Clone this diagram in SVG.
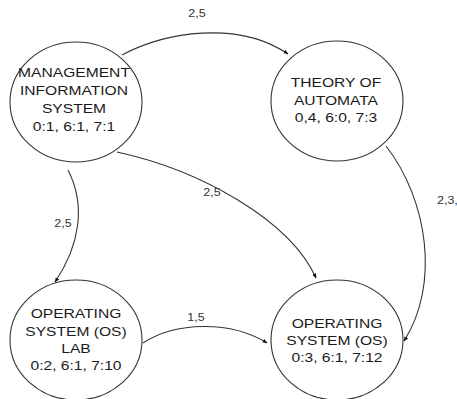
<svg xmlns="http://www.w3.org/2000/svg" width="457" height="399" viewBox="0 0 457 399">
<style>
.node ellipse{fill:#fff;stroke:#333;stroke-width:1.1}
.node text{font-family:"Liberation Sans",Arial,sans-serif;font-size:12.5px;fill:#1a1a1a;text-anchor:middle}
.edge{fill:none;stroke:#333;stroke-width:1.1;marker-end:url(#arr)}
.lbl{font-family:"Liberation Sans",Arial,sans-serif;font-size:10px;fill:#333;text-anchor:middle}
</style>
<defs>
<marker id="arr" viewBox="0 0 10 10" refX="9" refY="5" markerWidth="5" markerHeight="5" orient="auto" markerUnits="userSpaceOnUse">
<path d="M0,1 L10,5 L0,9 z" fill="#111"/>
</marker>
</defs>
<rect width="457" height="399" fill="#fff"/>
<g id="connectors">
<path class="edge" d="M122,55 C165,32 238,20 288,54"/>
<path class="edge" d="M117,152 C200,170 290,220 316,278"/>
<path class="edge" d="M68,170 C86,205 80,245 55,282"/>
<path class="edge" d="M143,343 C175,322 230,320 267,343"/>
<path class="edge" d="M386,146 C428,200 440,285 404,341"/>
<text class="lbl" transform="translate(197,17) scale(1.25,1)">2,5</text>
<text class="lbl" transform="translate(212,196) scale(1.25,1)">2,5</text>
<text class="lbl" transform="translate(63,227) scale(1.25,1)">2,5</text>
<text class="lbl" transform="translate(196,321) scale(1.25,1)">1,5</text>
<text class="lbl" style="text-anchor:start" transform="translate(437,204) scale(1.25,1)">2,3,5</text>
</g>
<g id="mis" class="node">
<ellipse cx="76" cy="102" rx="66" ry="60"/>
<text transform="translate(74,77) scale(1.25,1)">MANAGEMENT</text>
<text transform="translate(74,95) scale(1.25,1)">INFORMATION</text>
<text transform="translate(74,113) scale(1.25,1)">SYSTEM</text>
<text transform="translate(74,131) scale(1.25,1)">0:1, 6:1, 7:1</text>
</g>
<g id="toa" class="node">
<ellipse cx="337" cy="101" rx="66" ry="60"/>
<text transform="translate(336,87) scale(1.25,1)">THEORY OF</text>
<text transform="translate(336,105) scale(1.25,1)">AUTOMATA</text>
<text transform="translate(336,122) scale(1.25,1)">0,4, 6:0, 7:3</text>
</g>
<g id="oslab" class="node">
<ellipse cx="76" cy="340" rx="66" ry="60"/>
<text transform="translate(76,318) scale(1.25,1)">OPERATING</text>
<text transform="translate(76,336) scale(1.25,1)">SYSTEM (OS)</text>
<text transform="translate(76,353) scale(1.25,1)">LAB</text>
<text transform="translate(76,370) scale(1.25,1)">0:2, 6:1, 7:10</text>
</g>
<g id="os" class="node">
<ellipse cx="337" cy="340" rx="66" ry="60"/>
<text transform="translate(337,328) scale(1.25,1)">OPERATING</text>
<text transform="translate(337,345) scale(1.25,1)">SYSTEM (OS)</text>
<text transform="translate(337,362) scale(1.25,1)">0:3, 6:1, 7:12</text>
</g>
</svg>
